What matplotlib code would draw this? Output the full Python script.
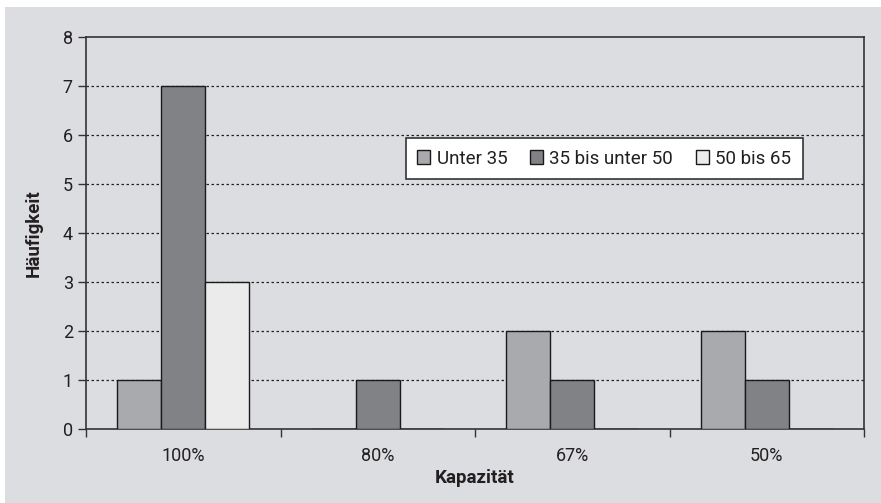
import matplotlib.pyplot as plt
import numpy as np
from matplotlib.patches import Rectangle
from matplotlib.ticker import FixedLocator

categories = ['100%', '80%', '67%', '50%']
series_names = ['Unter 35', '35 bis unter 50', '50 bis 65']
unter_35 = [1, 0, 2, 2]
bis_50 = [7, 1, 1, 1]
bis_65 = [3, 0, 0, 0]
colors = ['#a9aaad', '#818285', '#ebebeb']

plt.rcParams['font.family'] = ['Roboto', 'DejaVu Sans']
text_color = '#231f20'

fig = plt.figure(figsize=(8.81, 5.03), dpi=100)
fig.patch.set_facecolor('white')
# grey backdrop, a thin white margin stays at top and left
fig.patches.append(Rectangle((5 / 881, 0), 1, 1 - 7 / 503, transform=fig.transFigure,
                             facecolor='#dcdde0', edgecolor='none', zorder=-10))

ax = fig.add_axes([86 / 881, 1 - 429 / 503, (864 - 86) / 881, (429 - 37) / 503])
ax.set_facecolor('#dcdde0')

x = np.arange(len(categories))
w = 0.226
for i, (vals, name) in enumerate(zip([unter_35, bis_50, bis_65], series_names)):
    ax.bar(x + (i - 1) * w, vals, width=w, color=colors[i], edgecolor='#1a1a1a',
           linewidth=1.0, label=name, zorder=3)

ax.set_xlim(-0.5, len(categories) - 0.5)
ax.set_ylim(0, 8)
ax.set_yticks(range(0, 9))
ax.set_xticks(x)
ax.set_xticklabels(categories)
ax.xaxis.set_minor_locator(FixedLocator(np.arange(-0.5, len(categories), 1.0)))
ax.tick_params(axis='x', which='major', length=0, pad=13, labelsize=13, colors=text_color)
ax.tick_params(axis='x', which='minor', length=5.5, width=1, direction='out', color='#333333')
ax.tick_params(axis='y', length=5.5, width=1, direction='out', labelsize=13, colors=text_color,
               pad=4, color='#333333')

for yv in range(1, 8):
    ax.axhline(yv, color='#222222', linestyle=(0, (2, 2)), linewidth=0.9, zorder=1)

for s in ax.spines.values():
    s.set_color('#333333')
    s.set_linewidth(1.2)

ax.set_ylabel('Häufigkeit', fontsize=13.5, fontweight='bold', color=text_color, labelpad=14)
ax.set_xlabel('Kapazität', fontsize=13.5, fontweight='bold', color=text_color, labelpad=3)

leg = ax.legend(loc='center', bbox_to_anchor=(0.666, 0.69), ncol=3, fontsize=13.5,
                frameon=True, fancybox=False, edgecolor='#333333', facecolor='white',
                framealpha=1, handlelength=0.7, handleheight=0.7, handletextpad=0.35,
                columnspacing=1.2, borderpad=0.6, borderaxespad=0)
leg.get_frame().set_linewidth(1.2)
for t in leg.get_texts():
    t.set_color(text_color)

plt.savefig('out.png', dpi=100)
